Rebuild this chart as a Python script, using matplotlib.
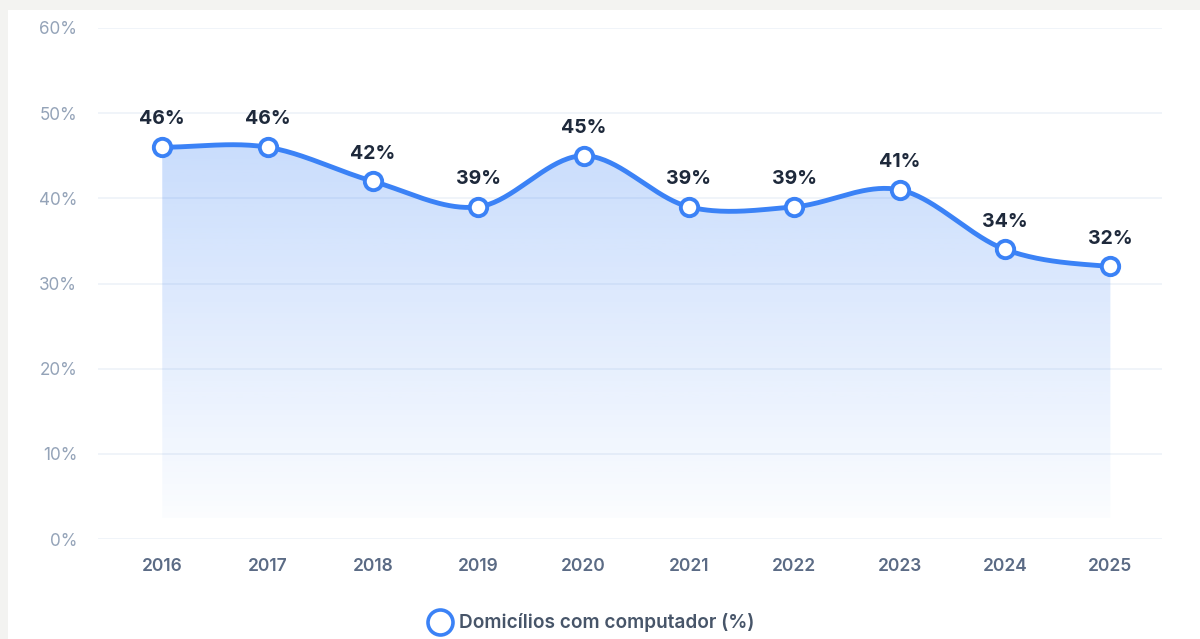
import numpy as np
import matplotlib.pyplot as plt
from matplotlib.lines import Line2D
from matplotlib.patches import Rectangle
from matplotlib.colors import to_rgb

plt.rcParams['font.family'] = ['Inter', 'DejaVu Sans']

anos = ['2016', '2017', '2018', '2019', '2020', '2021', '2022', '2023', '2024', '2025']
domicilios = [46, 46, 42, 39, 45, 39, 39, 41, 34, 32]
yticks = [0, 10, 20, 30, 40, 50, 60]
legenda = 'Domicílios com computador (%)'

AZUL = '#3b82f6'


def catmull_rom(x, y, n=40):
    # curva suave passando pelos pontos (estilo spline do grafico original)
    x = np.asarray(x, float)
    y = np.asarray(y, float)
    px = np.concatenate([[2 * x[0] - x[1]], x, [2 * x[-1] - x[-2]]])
    py = np.concatenate([[y[0]], y, [y[-1]]])
    xs, ys = [], []
    for i in range(1, len(px) - 2):
        t = np.linspace(0, 1, n, endpoint=False)
        for p, out in ((px, xs), (py, ys)):
            p0, p1, p2, p3 = p[i - 1], p[i], p[i + 1], p[i + 2]
            out.append(0.5 * ((2 * p1) + (-p0 + p2) * t
                              + (2 * p0 - 5 * p1 + 4 * p2 - p3) * t ** 2
                              + (-p0 + 3 * p1 - 3 * p2 + p3) * t ** 3))
    xs.append([x[-1]])
    ys.append([y[-1]])
    return np.concatenate(xs), np.concatenate(ys)


fig = plt.figure(figsize=(12, 6.39), dpi=100)
fig.patch.set_facecolor('#f3f3f1')
fig.patches.append(Rectangle((8 / 1200, 0), 1, (639 - 10) / 639, transform=fig.transFigure,
                             facecolor='white', edgecolor='none', zorder=-5))

ax = fig.add_axes([98 / 1200, 1 - 539 / 639, (1162 - 98) / 1200, 511 / 639])
ax.set_facecolor('none')
ax.set_zorder(2)

x = np.arange(len(anos))
sx, sy = catmull_rom(x, domicilios)

# preenchimento em degrade
base = 2.5
poly = ax.fill_between(sx, sy, base, color='none', lw=0)
r, g, b = to_rgb(AZUL)
grad = np.zeros((256, 1, 4))
grad[:, 0, 0], grad[:, 0, 1], grad[:, 0, 2] = r, g, b
grad[:, 0, 3] = np.linspace(0.28, 0.02, 256)
img = ax.imshow(grad, aspect='auto', extent=[x[0], x[-1], base, max(domicilios) + 1],
                origin='upper', zorder=1)
img.set_clip_path(poly.get_paths()[0], transform=ax.transData)

ax.plot(sx, sy, color=AZUL, lw=3.5, zorder=3, solid_capstyle='round')
ax.plot(x, domicilios, 'o', ms=12.5, mfc='white', mec=AZUL, mew=2.8, zorder=4)

for xi, v in zip(x, domicilios):
    ax.annotate(f'{v}%', (xi, v), xytext=(0, 20), textcoords='offset points',
                ha='center', va='center', fontsize=14, fontweight='bold', color='#1e293b')

ax.set_xlim(-0.61, 9.49)
ax.set_ylim(0, 60)
ax.set_yticks(yticks)
ax.set_yticklabels([f'{t}%' for t in yticks])
ax.set_xticks(x)
ax.set_xticklabels(anos)
ax.grid(axis='y', color='#eef2f8', lw=1.2)
ax.set_axisbelow(True)
for s in ax.spines.values():
    s.set_visible(False)
ax.tick_params(axis='both', length=0)
ax.tick_params(axis='y', pad=15, labelsize=12.3, labelcolor='#94a3b8')
ax.tick_params(axis='x', pad=13.5, labelsize=12.5)
for lbl in ax.get_xticklabels():
    lbl.set_color('#5b6b85')
    lbl.set_fontweight('semibold')

handle = Line2D([], [], marker='o', ls='none', ms=18, mfc='white', mec=AZUL, mew=2.6)
leg = fig.legend([handle], [legenda], loc='center', bbox_to_anchor=(0.49, 1 - 623 / 639),
                 frameon=False, handletextpad=0.0, fontsize=13.7)
for t in leg.get_texts():
    t.set_color('#475569')
    t.set_fontweight('semibold')

fig.savefig('out.png', dpi=100, facecolor=fig.get_facecolor())
